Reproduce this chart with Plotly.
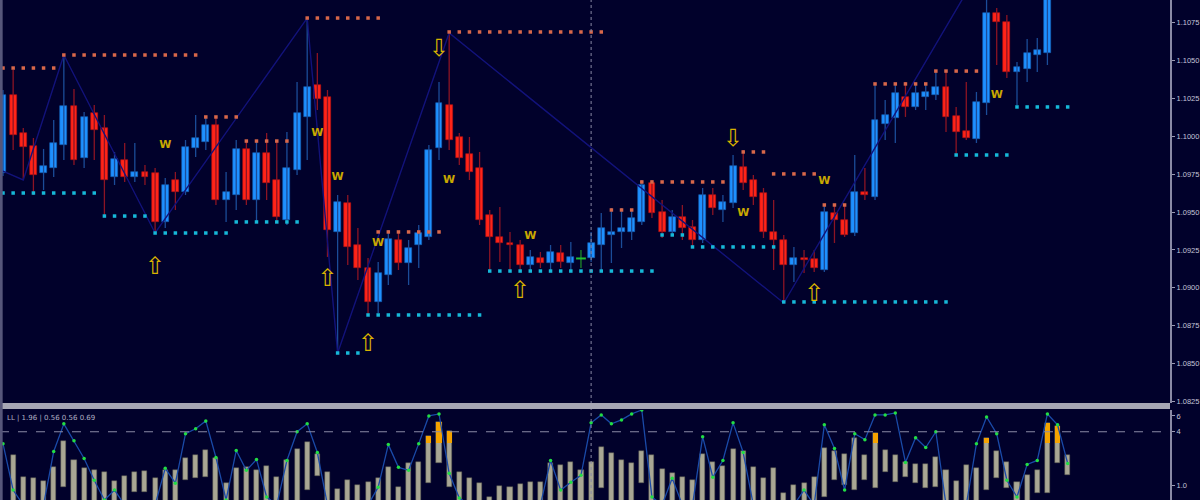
import plotly.graph_objects as go

# ---------------- data ----------------
idx = list(range(106))
opens = [1.09758,1.10273,1.10022,1.09936,1.09758,1.09791,1.09943,1.10200,1.09857,1.10154,
         1.10055,1.09732,1.09844,1.09732,1.09765,1.09758,1.09435,1.09712,1.09633,1.09923,
         1.09963,1.10075,1.09580,1.09613,1.09917,1.09580,1.09890,1.09712,1.09448,1.09778,
         1.10128,1.10339,1.10260,1.09369,1.09560,1.09283,1.09131,1.08907,1.09085,1.09316,
         1.09164,1.09283,1.09336,1.09923,1.10207,1.09996,1.09884,1.09791,1.09481,1.09336,
         1.09296,1.09283,1.09151,1.09197,1.09164,1.09230,1.09164,1.09194,1.09197,1.09283,
         1.09349,1.09369,1.09369,1.09435,1.09692,1.09501,1.09369,1.09468,1.09402,1.09316,
         1.09613,1.09514,1.09560,1.09798,1.09712,1.09626,1.09369,1.09316,1.09151,1.09197,
         1.09191,1.09118,1.09494,1.09448,1.09362,1.09633,1.09600,1.10082,1.10121,1.10260,
         1.10194,1.10260,1.10273,1.10326,1.10134,1.10035,1.09983,1.10220,1.10814,1.10755,
         1.10425,1.10445,1.10537,1.10550,1.11000,1.11100]
closes = [1.10273,1.10009,1.09930,1.09745,1.09804,1.09956,1.10200,1.09844,1.10128,1.10042,
          1.09712,1.09851,1.09732,1.09765,1.09732,1.09435,1.09679,1.09633,1.09930,1.09989,
          1.10075,1.09580,1.09633,1.09917,1.09580,1.09890,1.09692,1.09468,1.09791,1.10154,
          1.10326,1.10247,1.09382,1.09567,1.09270,1.09131,1.08907,1.09098,1.09323,1.09164,
          1.09263,1.09362,1.09910,1.10220,1.09976,1.09857,1.09765,1.09448,1.09336,1.09296,
          1.09283,1.09151,1.09204,1.09164,1.09237,1.09171,1.09204,1.09194,1.09296,1.09395,
          1.09369,1.09395,1.09461,1.09679,1.09494,1.09369,1.09468,1.09395,1.09316,1.09613,
          1.09527,1.09567,1.09804,1.09692,1.09600,1.09369,1.09316,1.09151,1.09197,1.09184,
          1.09131,1.09501,1.09448,1.09349,1.09633,1.09613,1.10108,1.10141,1.10286,1.10194,
          1.10286,1.10293,1.10326,1.10128,1.10029,1.09989,1.10227,1.10814,1.10755,1.10425,
          1.10458,1.10550,1.10570,1.11000,1.11100,1.11050]
highs = [1.10306,1.10438,1.10055,1.09989,1.09917,1.10108,1.10537,1.10313,1.10161,1.10207,
         1.10141,1.09897,1.09956,1.09956,1.09811,1.09791,1.09725,1.09765,1.09976,1.10141,
         1.10128,1.10128,1.09765,1.09976,1.09976,1.09976,1.10022,1.09976,1.10029,1.10359,
         1.10781,1.10550,1.10306,1.09613,1.09613,1.09395,1.09197,1.09171,1.09382,1.09369,
         1.09316,1.09415,1.09943,1.10359,1.10682,1.10022,1.09996,1.09897,1.09514,1.09534,
         1.09369,1.09316,1.09250,1.09237,1.09283,1.09283,1.09303,1.09250,1.09369,1.09494,
         1.09527,1.09527,1.09514,1.09712,1.09712,1.09580,1.09514,1.09547,1.09448,1.09659,
         1.09659,1.09613,1.09877,1.09910,1.09745,1.09659,1.09580,1.09349,1.09270,1.09250,
         1.09250,1.09547,1.09547,1.09547,1.09877,1.09791,1.10352,1.10240,1.10352,1.10359,
         1.10339,1.10339,1.10425,1.10425,1.10194,1.10359,1.10293,1.11177,1.10847,1.10801,
         1.10491,1.10643,1.10649,1.11065,1.11150,1.11180]
lows = [1.09738,1.09910,1.09712,1.09613,1.09646,1.09732,1.09844,1.09811,1.09791,1.09844,
        1.09474,1.09679,1.09699,1.09699,1.09679,1.09362,1.09395,1.09514,1.09613,1.09864,
        1.09910,1.09547,1.09435,1.09514,1.09547,1.09435,1.09580,1.09435,1.09415,1.09745,
        1.09844,1.10174,1.09204,1.08570,1.09151,1.09052,1.08821,1.08834,1.09019,1.09118,
        1.09019,1.09131,1.09316,1.09844,1.09910,1.09811,1.09712,1.09415,1.09105,1.09171,
        1.09118,1.09105,1.09118,1.09131,1.09118,1.09131,1.09118,1.09131,1.09171,1.09105,
        1.09164,1.09263,1.09316,1.09415,1.09461,1.09329,1.09342,1.09316,1.09263,1.09296,
        1.09481,1.09435,1.09527,1.09646,1.09547,1.09329,1.09118,1.08900,1.09039,1.09098,
        1.09105,1.09105,1.09296,1.09336,1.09342,1.09580,1.09580,1.09976,1.09956,1.10128,
        1.10174,1.10174,1.10240,1.10029,1.09877,1.09976,1.09956,1.10141,1.10471,1.10385,
        1.10207,1.10359,1.10425,1.10471,1.10960,1.11000]

# support (cyan) and resistance (salmon) dotted levels: (first bar, last bar, price)
support_levels = [(0, 9, 1.09626), (10, 14, 1.09474), (15, 22, 1.09362), (23, 29, 1.09435),
                  (33, 35, 1.08570), (36, 47, 1.08821), (48, 64, 1.09111), (65, 67, 1.09349),
                  (68, 76, 1.09270), (77, 93, 1.08907), (94, 99, 1.09877), (100, 105, 1.10194)]
resistance_levels = [(0, 5, 1.10451), (6, 19, 1.10537), (20, 23, 1.10128), (24, 28, 1.09969),
                     (30, 37, 1.10781), (37, 43, 1.09369), (44, 59, 1.10689), (60, 62, 1.09514),
                     (63, 71, 1.09699), (73, 75, 1.09897), (76, 80, 1.09752), (81, 83, 1.09547),
                     (86, 91, 1.10346), (92, 96, 1.10431)]

# zigzag swing points
zz_idx = [0, 2, 6, 15, 30, 33, 44, 77, 97]
zz_price = [1.09771, 1.09712, 1.10537, 1.09362, 1.10781, 1.08570, 1.10682, 1.08900, 1.11177]

# signals
up_idx = [15, 32, 36, 51, 80]
up_price = [1.09131, 1.09052, 1.08623, 1.08973, 1.08953]
dn_idx = [30, 43, 72]
dn_price = [1.10966, 1.10570, 1.09976]
w_idx = [16, 31, 33, 37, 44, 52, 73, 81, 98]
w_price = [1.09943, 1.10022, 1.09732, 1.09296, 1.09712, 1.09342, 1.09494, 1.09705, 1.10273]

cursor_index = 58

# oscillator window
osc_top = [None,45,23,22,19,33,60,40,32,30,28,19,24,28,29,22,30,30,42,46,
           51,42,17,32,33,30,34,23,40,52,59,47,28,11,20,15,18,22,33,13,
           37,38,65,79,70,28,22,17,3,14,13,16,18,18,37,35,38,30,38,54,
           48,40,37,50,46,31,27,23,20,47,38,34,52,50,33,22,32,7,15,17,
           23,53,50,47,63,45,68,51,45,38,36,36,43,30,19,35,32,63,50,38,
           18,25,30,78,75,45]
osc_bot = [None,-10,-10,-10,-10,-10,13,-10,-10,-10,-10,-10,-10,8,8,-10,-10,-10,20,22,
           23,-10,-10,-10,-10,-10,-10,-10,-10,-10,10,24,-10,-10,-10,-10,-10,-10,-10,-10,
           -10,-10,17,37,13,-10,-10,-10,-10,-10,-10,-10,-10,-10,-10,-10,-10,-10,-10,12,
           -10,-10,-10,17,-10,-10,-10,-10,-10,-10,-10,-10,-10,-10,-10,-10,-10,-10,-10,-10,
           -10,3,20,15,10,20,12,28,18,23,17,12,13,-10,-10,-10,-10,10,22,12,
           -10,-10,7,7,37,25]
osc_line = [57,10,-5,-10,-5,49,77,60,42,20,0,10,-5,-5,-5,-5,32,17,67,72,
            80,43,0,50,30,41,3,-5,40,69,77,48,-5,-5,-5,-5,-5,13,56,33,
            30,57,85,87,27,2,-5,-5,-5,-5,-5,-5,-5,-5,40,10,18,25,78,86,
            77,81,87,91,3,-5,22,-5,-5,64,23,40,78,48,-5,-5,-5,-5,-5,10,
            -5,76,52,10,67,61,86,86,88,38,63,53,69,-5,-5,-5,57,84,67,20,
            3,36,40,87,76,37]
hot_idx = [42, 43, 44, 86, 97, 103, 104]
hot_top = [65, 79, 70, 68, 63, 78, 75]
hot_level = 58
osc_signal_level = 69

price_ticks = [1.0825, 1.0850, 1.0875, 1.0900, 1.0925, 1.0950, 1.0975, 1.1000, 1.1025, 1.1050, 1.1075]

# ---------------- styling ----------------
BG = "#01012b"
BULL = "#1e90ff"
BEAR = "#ff2418"
BULL_WICK = "#1b4c98"
BEAR_WICK = "#8c1424"
TICKFONT = dict(size=7.5, color="#c4c4d8", family="Liberation Sans Narrow, Liberation Sans, DejaVu Sans")

fig = go.Figure()

def wick_xy(sel):
    xs, ys = [], []
    for i in sel:
        xs += [idx[i], idx[i], None]
        ys += [lows[i], highs[i], None]
    return xs, ys

bull = [i for i in idx if closes[i] > opens[i]]
bear = [i for i in idx if closes[i] < opens[i]]
doji = [i for i in idx if closes[i] == opens[i]]

for sel, col in ((bull, BULL_WICK), (bear, BEAR_WICK), (doji, "#1f8a2a")):
    xs, ys = wick_xy(sel)
    fig.add_trace(go.Scatter(x=xs, y=ys, mode="lines", line=dict(color=col, width=1.3),
                             hoverinfo="skip", showlegend=False))

for sel, col, edge in ((bull, BULL, "#1560b0"), (bear, BEAR, "#b01010")):
    fig.add_trace(go.Bar(x=[idx[i] for i in sel],
                         y=[abs(closes[i] - opens[i]) for i in sel],
                         base=[min(opens[i], closes[i]) for i in sel],
                         width=0.68, marker=dict(color=col, line=dict(color=edge, width=0.6)),
                         showlegend=False, hoverinfo="skip"))
fig.add_trace(go.Scatter(x=[idx[i] for i in doji], y=[closes[i] for i in doji], mode="markers",
                         marker=dict(symbol="line-ew", size=7, line=dict(color="#22c030", width=2)),
                         showlegend=False, hoverinfo="skip"))

# zigzag
fig.add_trace(go.Scatter(x=zz_idx, y=zz_price, mode="lines", line=dict(color="#12127a", width=1.4),
                         hoverinfo="skip", showlegend=False))

def level_pts(levels):
    xs, ys = [], []
    for a, b, p in levels:
        for i in range(a, b + 1):
            xs.append(i)
            ys.append(p)
    return xs, ys

sx, sy = level_pts(support_levels)
fig.add_trace(go.Scatter(x=sx, y=sy, mode="markers",
                         marker=dict(symbol="square", size=3.5, color="#16b8d8"),
                         hoverinfo="skip", showlegend=False))
rx, ry = level_pts(resistance_levels)
fig.add_trace(go.Scatter(x=rx, y=ry, mode="markers",
                         marker=dict(symbol="square", size=3.5, color="#d8674a"),
                         hoverinfo="skip", showlegend=False))

# signals
fig.add_trace(go.Scatter(x=up_idx, y=up_price, mode="text", text=["⇧"] * len(up_idx),
                         textfont=dict(size=24, color="#d9b400", family="DejaVu Sans"),
                         hoverinfo="skip", showlegend=False))
fig.add_trace(go.Scatter(x=dn_idx, y=dn_price, mode="text", text=["⇩"] * len(dn_idx),
                         textfont=dict(size=24, color="#d9b400", family="DejaVu Sans"),
                         hoverinfo="skip", showlegend=False))
fig.add_trace(go.Scatter(x=w_idx, y=w_price, mode="text", text=["<b>W</b>"] * len(w_idx),
                         textfont=dict(size=11, color="#c9a800", family="DejaVu Sans"),
                         hoverinfo="skip", showlegend=False))

# oscillator
osc_sel = [i for i in idx if osc_top[i] is not None]
fig.add_trace(go.Bar(x=osc_sel, y=[osc_top[i] - osc_bot[i] for i in osc_sel],
                     base=[osc_bot[i] for i in osc_sel], width=0.5, yaxis="y2",
                     marker=dict(color="#a9a794", line=dict(color="#55554a", width=0.5)),
                     showlegend=False, hoverinfo="skip"))
fig.add_trace(go.Bar(x=hot_idx, y=[t - hot_level for t in hot_top], base=[hot_level] * len(hot_idx),
                     width=0.5, yaxis="y2", marker=dict(color="#f5a300", line=dict(width=0)),
                     showlegend=False, hoverinfo="skip"))
fig.add_trace(go.Scatter(x=idx, y=osc_line, yaxis="y2", mode="lines+markers",
                         line=dict(color="#1a4aa8", width=1.3),
                         marker=dict(size=3.5, color="#22dd44"),
                         hoverinfo="skip", showlegend=False))

# ---------------- layout ----------------
shapes = [
    dict(type="line", xref="x", yref="paper", x0=cursor_index, x1=cursor_index, y0=0, y1=1,
         line=dict(color="#8a8aa6", width=1, dash="dot")),
    dict(type="rect", xref="paper", yref="paper", x0=0, x1=1, y0=1 - 409 / 500, y1=1 - 403 / 500,
         fillcolor="#a6a6b4", line=dict(width=0), layer="above"),
    dict(type="line", xref="paper", yref="y2", x0=0, x1=1, y0=osc_signal_level, y1=osc_signal_level,
         line=dict(color="#8a8aa6", width=1, dash="dash")),
    dict(type="line", xref="paper", yref="paper", x0=0.001, x1=0.001, y0=0, y1=1,
         line=dict(color="#56567a", width=3)),
]

fig.update_layout(
    width=1200, height=500,
    margin=dict(l=0, r=30, t=0, b=0, pad=0, autoexpand=False),
    paper_bgcolor=BG, plot_bgcolor=BG,
    barmode="overlay", bargap=0,
    showlegend=False,
    xaxis=dict(range=[-0.296, 115.09], visible=False, fixedrange=True, automargin=False),
    yaxis=dict(domain=[1 - 403 / 500, 1], range=[1.08240, 1.10900], side="right", automargin=False,
               showgrid=False, zeroline=False, tickvals=price_ticks,
               ticktext=[f"{v:.4f}" for v in price_ticks],
               ticks="outside", ticklen=3, tickcolor="#9a9ab4",
               showline=True, linecolor="#8a8aa6", linewidth=2, tickfont=TICKFONT),
    yaxis2=dict(domain=[0, 1 - 410 / 500], range=[0, 91], side="right", anchor="x", automargin=False,
                showgrid=False, zeroline=False, tickvals=[85, 69, 15], ticktext=["6", "4", "1.0"],
                ticks="outside", ticklen=3, tickcolor="#9a9ab4",
                showline=True, linecolor="#8a8aa6", linewidth=2, tickfont=TICKFONT),
    shapes=shapes,
    annotations=[dict(xref="paper", yref="paper", x=0.004, y=1 - 412 / 500, xanchor="left", yanchor="top",
                      text="LL | 1.96 | 0.56 0.56 0.69", showarrow=False,
                      font=dict(size=7, color="#b0b0c4", family="DejaVu Sans"))],
)

fig.write_html("out.html", config={"displayModeBar": False},
               post_script="document.body.style.margin='0';document.body.style.background='#01012b';")
